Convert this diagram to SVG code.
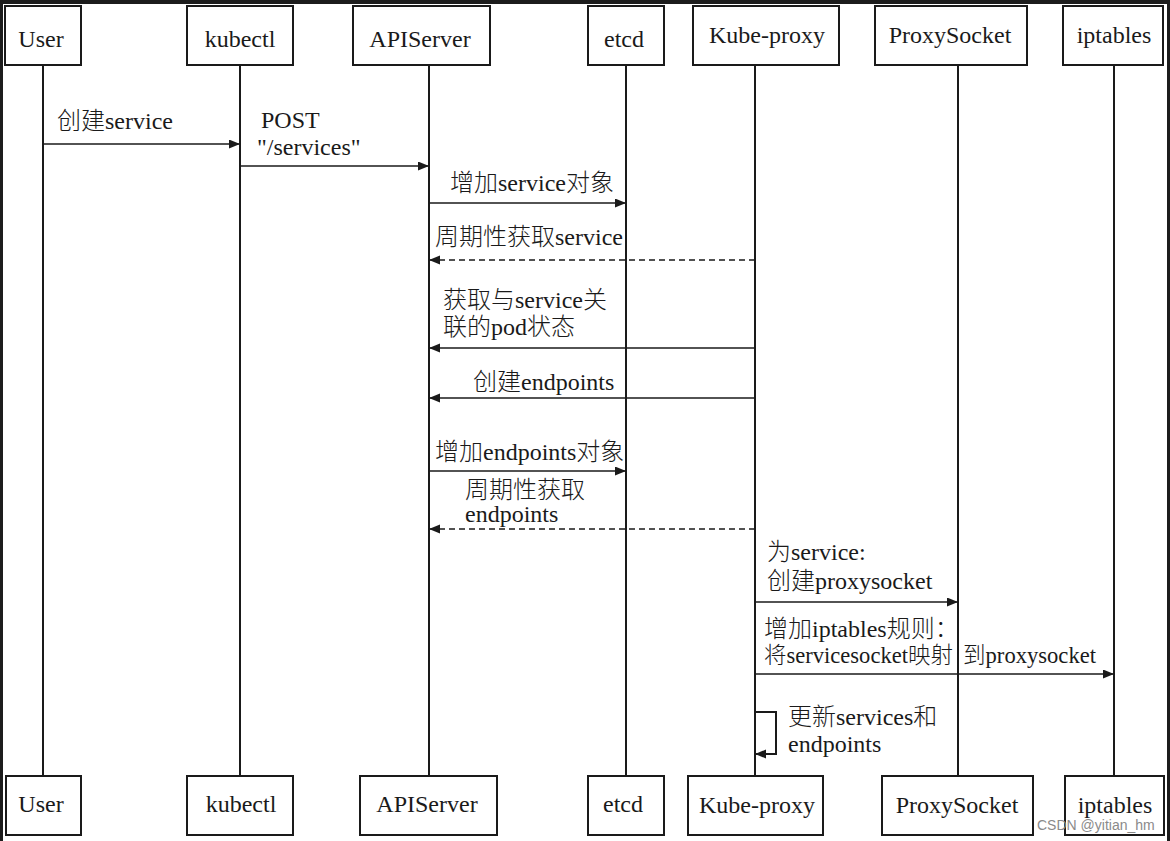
<svg xmlns="http://www.w3.org/2000/svg" width="1170" height="841" viewBox="0 0 1170 841">
  <style>
    .box { fill: #ffffff; stroke: #1a1a1a; stroke-width: 2; }
    .life { stroke: #1a1a1a; stroke-width: 2; fill: none; }
    .msg { stroke: #1a1a1a; stroke-width: 1.6; fill: none; marker-end: url(#arrow); }
    .dash { stroke-dasharray: 6 4; }
    .hdr { font-family: "Liberation Serif", serif; font-size: 24px; fill: #1a1a1a; text-anchor: middle; }
    .lbl { font-family: "Liberation Serif", serif; font-size: 24px; fill: #1a1a1a; }
    .c { font-family: "Noto Sans CJK SC", sans-serif; font-weight: 300; }
    .wm { font-family: "Liberation Sans", Arial, sans-serif; font-size: 14px; fill: #8a8a8a; }
  </style>
  <defs>
    <marker id="arrow" markerUnits="userSpaceOnUse" markerWidth="12" markerHeight="10" refX="11" refY="4.5" orient="auto">
      <path d="M0,0 L11,4.5 L0,9 Z" fill="#1a1a1a"/>
    </marker>
  </defs>

  <!-- frame -->
  <rect x="0" y="0" width="1170" height="841" fill="#1c1c1c"/>
  <rect x="3" y="4" width="1164" height="837" fill="#ffffff"/>

  <!-- lifelines -->
  <g id="lifelines">
    <line class="life" x1="43" y1="65" x2="43" y2="776"/>
    <line class="life" x1="240" y1="65" x2="240" y2="776"/>
    <line class="life" x1="429" y1="65" x2="429" y2="776"/>
    <line class="life" x1="626" y1="65" x2="626" y2="776"/>
    <line class="life" x1="755" y1="65" x2="755" y2="776"/>
    <line class="life" x1="958" y1="65" x2="958" y2="776"/>
    <line class="life" x1="1114" y1="65" x2="1114" y2="776"/>
  </g>

  <!-- nodes: top -->
  <g id="user-top"><rect class="box" x="5" y="6" width="76" height="59"/><text class="hdr" x="41" y="47">User</text></g>
  <g id="kubectl-top"><rect class="box" x="187" y="6" width="106" height="59"/><text class="hdr" x="240" y="47">kubectl</text></g>
  <g id="apiserver-top"><rect class="box" x="353" y="6" width="137" height="59"/><text class="hdr" x="420" y="47">APIServer</text></g>
  <g id="etcd-top"><rect class="box" x="588" y="6" width="76" height="59"/><text class="hdr" x="624" y="47">etcd</text></g>
  <g id="kubeproxy-top"><rect class="box" x="693" y="6" width="146" height="59"/><text class="hdr" x="767" y="43">Kube-proxy</text></g>
  <g id="proxysocket-top"><rect class="box" x="875" y="6" width="152" height="59"/><text class="hdr" x="950" y="43">ProxySocket</text></g>
  <g id="iptables-top"><rect class="box" x="1063" y="6" width="100" height="59"/><text class="hdr" x="1114" y="43">iptables</text></g>

  <!-- nodes: bottom -->
  <g id="user-bottom"><rect class="box" x="6" y="776" width="75" height="59"/><text class="hdr" x="41" y="812">User</text></g>
  <g id="kubectl-bottom"><rect class="box" x="187" y="776" width="106" height="59"/><text class="hdr" x="241" y="812">kubectl</text></g>
  <g id="apiserver-bottom"><rect class="box" x="360" y="776" width="137" height="59"/><text class="hdr" x="427" y="812">APIServer</text></g>
  <g id="etcd-bottom"><rect class="box" x="588" y="776" width="76" height="59"/><text class="hdr" x="623" y="812">etcd</text></g>
  <g id="kubeproxy-bottom"><rect class="box" x="688" y="776" width="135" height="59"/><text class="hdr" x="757" y="813">Kube-proxy</text></g>
  <g id="proxysocket-bottom"><rect class="box" x="882" y="776" width="151" height="59"/><text class="hdr" x="957" y="813">ProxySocket</text></g>
  <g id="iptables-bottom"><rect class="box" x="1065" y="776" width="99" height="59"/><text class="hdr" x="1115" y="813">iptables</text></g>

  <!-- connectors -->
  <g id="connectors">
    <line class="msg" x1="43" y1="144" x2="240" y2="144"/>
    <line class="msg" x1="240" y1="166" x2="429" y2="166"/>
    <line class="msg" x1="429" y1="203" x2="626" y2="203"/>
    <line class="msg dash" x1="755" y1="260" x2="429" y2="260"/>
    <line class="msg" x1="755" y1="348" x2="429" y2="348"/>
    <line class="msg" x1="755" y1="398" x2="429" y2="398"/>
    <line class="msg" x1="429" y1="471" x2="626" y2="471"/>
    <line class="msg dash" x1="755" y1="529" x2="429" y2="529"/>
    <line class="msg" x1="755" y1="602" x2="958" y2="602"/>
    <line class="msg" x1="755" y1="674" x2="1114" y2="674"/>
    <path class="msg" d="M755,712 H776 V754 H755" style="stroke-width:2"/>
  </g>

  <!-- labels -->
  <g id="labels">
    <text class="lbl" x="57" y="129"><tspan class="c">创建</tspan>service</text>
    <text class="lbl" x="261" y="128">POST</text>
    <text class="lbl" x="257" y="155">"/services"</text>
    <text class="lbl" x="450" y="191"><tspan class="c">增加</tspan>service<tspan class="c">对象</tspan></text>
    <text class="lbl" x="435" y="245"><tspan class="c">周期性获取</tspan>service</text>
    <text class="lbl" x="443" y="308"><tspan class="c">获取与</tspan>service<tspan class="c">关</tspan></text>
    <text class="lbl" x="443" y="335"><tspan class="c">联的</tspan>pod<tspan class="c">状态</tspan></text>
    <text class="lbl" x="473" y="390"><tspan class="c">创建</tspan>endpoints</text>
    <text class="lbl" x="435" y="460"><tspan class="c">增加</tspan>endpoints<tspan class="c">对象</tspan></text>
    <text class="lbl" x="465" y="498"><tspan class="c">周期性获取</tspan></text>
    <text class="lbl" x="465" y="522">endpoints</text>
    <text class="lbl" x="767" y="560"><tspan class="c">为</tspan>service:</text>
    <text class="lbl" x="767" y="589"><tspan class="c">创建</tspan>proxysocket</text>
    <text class="lbl" x="764" y="637"><tspan class="c">增加</tspan>iptables<tspan class="c">规则：</tspan></text>
    <text class="lbl" x="764" y="663" style="font-size:23px" textLength="189" lengthAdjust="spacingAndGlyphs"><tspan class="c">将</tspan>servicesocket<tspan class="c">映射</tspan></text>
    <text class="lbl" x="963" y="663" style="font-size:23px" textLength="133" lengthAdjust="spacingAndGlyphs"><tspan class="c">到</tspan>proxysocket</text>
    <text class="lbl" x="788" y="725"><tspan class="c">更新</tspan>services<tspan class="c">和</tspan></text>
    <text class="lbl" x="788" y="752">endpoints</text>
  </g>

  <text class="wm" x="1037" y="830">CSDN @yitian_hm</text>
</svg>
